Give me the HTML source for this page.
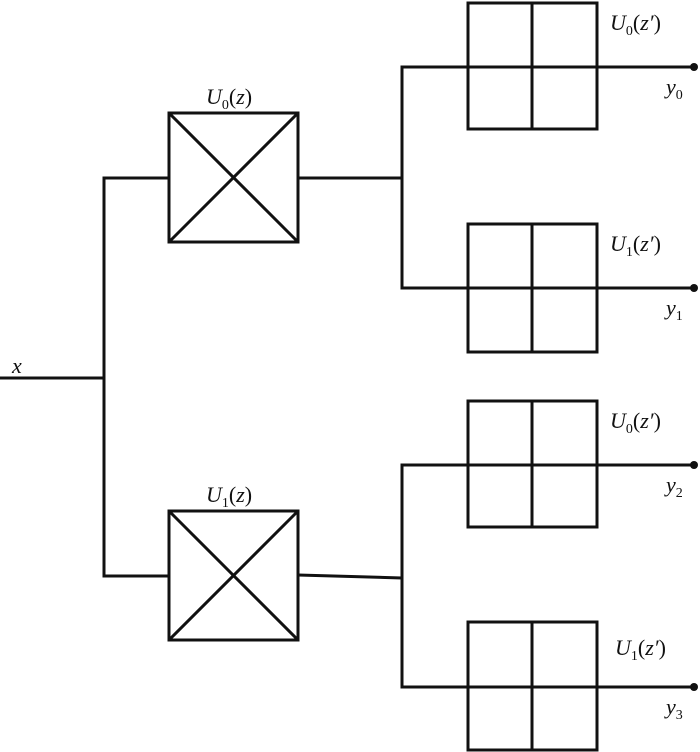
<!DOCTYPE html>
<html><head><meta charset="utf-8"><style>
html,body{margin:0;padding:0;background:#fff;}
svg{display:block;}
text{font-family:"Liberation Serif",serif;font-style:italic;fill:#111;}
.s{font-style:normal;font-size:14px;}
</style></head><body>
<svg width="700" height="752" viewBox="0 0 700 752" xmlns="http://www.w3.org/2000/svg">
<g stroke="#111" stroke-width="3" fill="none">
<line x1="0" y1="378" x2="104" y2="378"/>
<polyline points="168,178 104,178 104,576 169,576"/>
<rect x="169" y="113" width="129" height="129"/>
<line x1="169" y1="113" x2="298" y2="242"/>
<line x1="298" y1="113" x2="169" y2="242"/>
<line x1="298" y1="178" x2="402" y2="178"/>
<polyline points="468,67 402,67 402,288 468,288"/>
<rect x="169" y="511" width="129" height="129"/>
<line x1="169" y1="511" x2="298" y2="640"/>
<line x1="298" y1="511" x2="169" y2="640"/>
<line x1="298" y1="575" x2="402" y2="578"/>
<polyline points="468,465 402,465 402,687 468,687"/>
<rect x="468" y="3" width="129" height="126"/>
<line x1="532" y1="3" x2="532" y2="129"/>
<line x1="468" y1="67" x2="694" y2="67"/>
<rect x="468" y="224" width="129" height="128"/>
<line x1="532" y1="224" x2="532" y2="352"/>
<line x1="468" y1="288" x2="694" y2="288"/>
<rect x="468" y="401" width="129" height="126"/>
<line x1="532" y1="401" x2="532" y2="527"/>
<line x1="468" y1="465" x2="694" y2="465"/>
<rect x="468" y="622" width="129" height="128"/>
<line x1="532" y1="622" x2="532" y2="750"/>
<line x1="468" y1="687" x2="694" y2="687"/>
</g>
<g fill="#111">
<circle cx="694" cy="67" r="4"/>
<circle cx="694" cy="288" r="4"/>
<circle cx="694" cy="465" r="4"/>
<circle cx="694" cy="687" r="4"/>
</g>
<g font-size="22">
<text x="12" y="373">x</text>
<text x="206" y="104">U<tspan class="s" dy="5">0</tspan><tspan dy="-5" font-style="normal">(</tspan>z<tspan font-style="normal">)</tspan></text>
<text x="206" y="502">U<tspan class="s" dy="5">1</tspan><tspan dy="-5" font-style="normal">(</tspan>z<tspan font-style="normal">)</tspan></text>
<text x="610" y="30">U<tspan class="s" dy="5">0</tspan><tspan dy="-5" font-style="normal">(</tspan>z′<tspan font-style="normal">)</tspan></text>
<text x="610" y="251">U<tspan class="s" dy="5">1</tspan><tspan dy="-5" font-style="normal">(</tspan>z′<tspan font-style="normal">)</tspan></text>
<text x="610" y="428">U<tspan class="s" dy="5">0</tspan><tspan dy="-5" font-style="normal">(</tspan>z′<tspan font-style="normal">)</tspan></text>
<text x="615" y="655">U<tspan class="s" dy="5">1</tspan><tspan dy="-5" font-style="normal">(</tspan>z′<tspan font-style="normal">)</tspan></text>
<text x="666" y="94">y<tspan class="s" dy="5">0</tspan></text>
<text x="666" y="315">y<tspan class="s" dy="5">1</tspan></text>
<text x="666" y="492">y<tspan class="s" dy="5">2</tspan></text>
<text x="666" y="714">y<tspan class="s" dy="5">3</tspan></text>
</g>
</svg>
</body></html>
